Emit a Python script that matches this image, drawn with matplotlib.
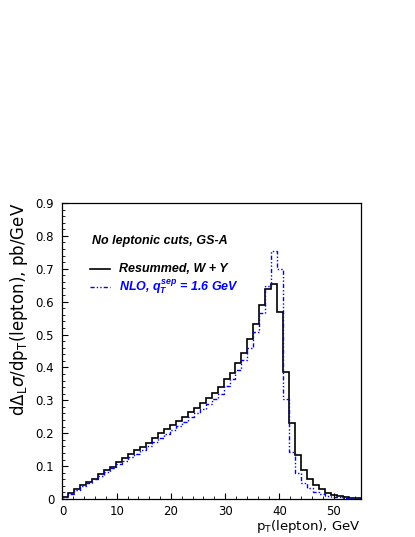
import numpy as np
import matplotlib
matplotlib.use('Agg')
import matplotlib.pyplot as plt
from matplotlib.ticker import MultipleLocator

plt.rcParams['font.family'] = ['DejaVu Sans']
plt.rcParams['mathtext.fontset'] = 'dejavusans'
plt.rcParams['mathtext.rm'] = 'Liberation Sans:bold:italic'
plt.rcParams['mathtext.it'] = 'Liberation Sans:bold:italic'
plt.rcParams['mathtext.bf'] = 'Liberation Sans:bold:italic'

# 50 bins of 1.1 GeV between 0 and 55 GeV
bin_edges = np.linspace(0, 55, 51)

resummed = [0.006, 0.017, 0.029, 0.042, 0.053, 0.062, 0.075, 0.088, 0.098, 0.111,
            0.124, 0.136, 0.148, 0.157, 0.171, 0.184, 0.200, 0.214, 0.225, 0.238,
            0.250, 0.264, 0.277, 0.291, 0.306, 0.321, 0.339, 0.366, 0.383, 0.412,
            0.443, 0.485, 0.533, 0.589, 0.637, 0.655, 0.569, 0.387, 0.230, 0.134,
            0.088, 0.060, 0.043, 0.029, 0.019, 0.012, 0.008, 0.005, 0.003, 0.002]

nlo = [0.005, 0.016, 0.027, 0.039, 0.050, 0.060, 0.071, 0.083, 0.093, 0.105,
       0.116, 0.127, 0.138, 0.150, 0.161, 0.172, 0.186, 0.198, 0.211, 0.223,
       0.235, 0.248, 0.260, 0.274, 0.289, 0.303, 0.320, 0.345, 0.365, 0.392,
       0.422, 0.460, 0.508, 0.567, 0.647, 0.754, 0.698, 0.304, 0.143, 0.080,
       0.048, 0.032, 0.021, 0.014, 0.010, 0.007, 0.005, 0.003, 0.002, 0.001]

yticks = [0, 0.1, 0.2, 0.3, 0.4, 0.5, 0.6, 0.7, 0.8, 0.9]
ytick_labels = ['0', '0.1', '0.2', '0.3', '0.4', '0.5', '0.6', '0.7', '0.8', '0.9']
xticks = [0, 10, 20, 30, 40, 50]

fig = plt.figure(figsize=(4.15, 5.37), dpi=100)
ax = fig.add_axes([0.1506, 0.0708, 0.7186, 0.5512])

ax.stairs(resummed, bin_edges, color='black', lw=1.2, baseline=0)
ax.stairs(nlo, bin_edges, color='blue', lw=1.0, baseline=0,
          linestyle=(0, (3, 1.5, 1, 1.5, 1, 1.5)))

ax.set_xlim(0, 55)
ax.set_ylim(0, 0.9)
ax.set_yticks(yticks)
ax.set_yticklabels(ytick_labels)
ax.set_xticks(xticks)
ax.yaxis.set_minor_locator(MultipleLocator(0.02))
ax.xaxis.set_minor_locator(MultipleLocator(2))
ax.tick_params(which='both', direction='in', top=False, right=False, labelsize=8.5)
ax.tick_params(which='major', length=4, width=0.8)
ax.tick_params(which='minor', length=2, width=0.6)
ax.tick_params(axis='y', pad=6)
ax.tick_params(axis='x', pad=4)
for s in ax.spines.values():
    s.set_linewidth(0.9)

ax.set_ylabel(r'd$\Delta_{\mathregular{L}}\sigma$/dp$_{\mathregular{T}}$(lepton), pb/GeV',
              loc='top', fontsize=12, labelpad=4, math_fontfamily='dejavusans')
ax.set_xlabel(r'p$_{\mathregular{T}}$(lepton), GeV', loc='right', fontsize=9.5,
              labelpad=0, math_fontfamily='dejavusans')

ax.text(0.099, 0.87, 'No leptonic cuts, GS-A', transform=ax.transAxes,
        fontsize=9, fontweight='bold', fontstyle='italic', va='center',
        family='Liberation Sans')

ax.plot([0.092, 0.16], [0.777, 0.777], transform=ax.transAxes, color='black', lw=1.2)
ax.text(0.188, 0.777, 'Resummed, W + Y', transform=ax.transAxes,
        fontsize=9, fontweight='bold', fontstyle='italic', va='center',
        family='Liberation Sans')
ax.plot([0.092, 0.16], [0.716, 0.716], transform=ax.transAxes, color='blue', lw=1.0,
        linestyle=(0, (3, 1.5, 1, 1.5, 1, 1.5)))
ax.text(0.188, 0.716, r'NLO, $q_T^{sep}$ = 1.6 GeV', transform=ax.transAxes,
        fontsize=9, fontweight='bold', fontstyle='italic', va='center', color='blue',
        family='Liberation Sans', math_fontfamily='custom')

fig.savefig('out.png', dpi=100)
